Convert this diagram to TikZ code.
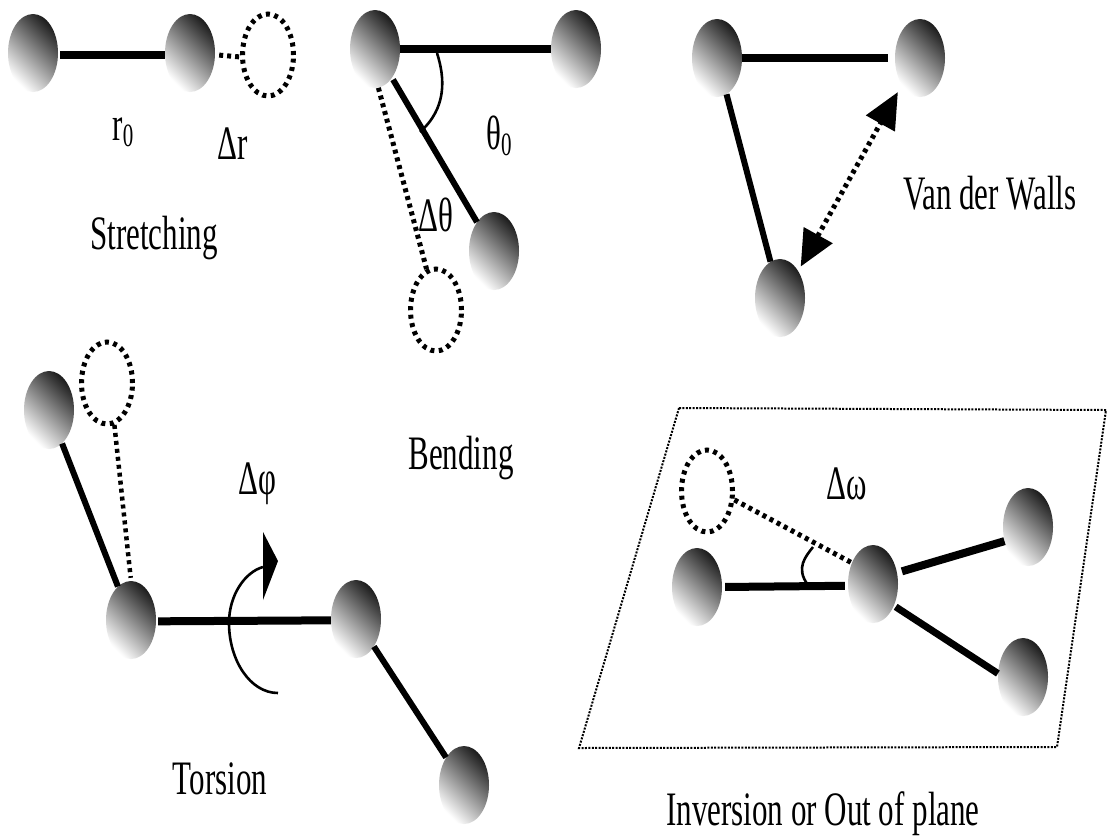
\documentclass[tikz,border=0pt]{standalone}
\usepackage{fontspec}
\setmainfont{Liberation Serif}
\usetikzlibrary{shapes.geometric,arrows.meta}
\newcommand\tallbox[1]{\scalebox{1}[1.55]{#1}}
\newcommand\lowzero{\raisebox{-0.14em}{\fontsize{21}{21}\selectfont 0}}
\tikzset{
  ball/.style={ellipse,inner sep=0pt,minimum width=50pt,minimum height=78pt,
    top color=black!88,middle color=black!42,bottom color=white,shading angle=-45},
  ghost/.style={ellipse,inner sep=0pt,minimum width=51pt,minimum height=82pt,draw=black,
    line width=5pt,dash pattern=on 4pt off 4.5pt},
  lab/.style={inner sep=0pt,anchor=base,font=\fontsize{31}{31}\selectfont,text=black},
  bondthick/.style={draw=black,line width=8pt},
  bond/.style={draw=black,line width=6pt},
  dotbond/.style={draw=black,line width=5pt,dash pattern=on 4pt off 4pt},
  dotthin/.style={draw=black,line width=4.5pt,dash pattern=on 4pt off 4pt},
  planeline/.style={draw=black,line width=2pt,dash pattern=on 2pt off 1.4pt},
  anglearc/.style={draw=black,line width=2.6pt},
}
\begin{document}
\begin{tikzpicture}[x=1pt,y=-1pt]
\useasboundingbox (0,0) rectangle (1107,836);
\fill[white] (0,0) rectangle (1107,836);
% Stretching
\node[ball] (s1) at (33,53) {};
\node[ball] (s2) at (190,53) {};
\node[ghost] (s3) at (268,55) {};
\draw[bondthick,shorten <=2pt] (s1.-4) -- (s2.184);
\draw[dotbond,shorten <=4pt] (s2.-4) -- (s3.184);
\node[lab] (r0) at (123,140) {\tallbox{r\lowzero}};
\node[lab] (dr) at (233,159) {\tallbox{Δr}};
\node[lab] (stretch) at (154,249) {\tallbox{Stretching}};
% Bending
\node[ball] (b1) at (375,49) {};
\node[ball] (b2) at (576,49) {};
\node[ball] (b3) at (494,251) {};
\node[ghost] (b4) at (436,310) {};
\draw[bondthick] (b1) -- (b2);
\draw[bond,shorten <=2pt] (b1) -- (b3);
\draw[dotbond] (b1.-85) -- (b4.103);
\coordinate (ba1) at (437,53);
\coordinate (ba2) at (420,132);
\draw[anglearc] (ba1) .. controls (445,78) and (447,108) .. (ba2);
\node[lab] (theta0) at (499,149) {\tallbox{θ\lowzero}};
\node[lab] (dtheta) at (436,231) {\tallbox{Δθ}};
\node[lab] (bending) at (461,469) {\tallbox{Bending}};
% Van der Walls
\node[ball] (v1) at (717,58) {};
\node[ball] (v2) at (920,58) {};
\node[ball] (v3) at (780,298) {};
\draw[bondthick,shorten >=7pt] (v1) -- (v2);
\draw[bond] (v1) -- (v3);
\draw[dotbond,shorten <=5pt,shorten >=8pt,{Triangle[length=36pt,width=32pt]}-{Triangle[length=36pt,width=32pt]}] (v3.56) -- (v2.-124);
\node[lab] (vdw) at (990,209) {\tallbox{Van der Walls}};
% Torsion
\node[ball] (t1) at (49,410) {};
\node[ghost] (t2) at (107,383) {};
\node[ball] (t3) at (131,620) {};
\node[ball] (t4) at (356,619) {};
\node[ball] (t5) at (464,785) {};
\draw[bond] (t1) -- (t3);
\draw[dotthin,shorten >=3pt] (t2.-80) -- (t3.90);
\draw[bondthick,shorten <=2pt] (t3.-3) -- (t4.183);
\draw[bond] (t4) -- (t5);
\coordinate (ta1) at (278,693);
\coordinate (ta2) at (263,567);
\draw[anglearc] (ta1) .. controls (250,693) and (229,660) .. (229,623)
  .. controls (229,595) and (245,572) .. (ta2);
\coordinate (th1) at (263,532);
\coordinate (th2) at (278,561);
\coordinate (th3) at (263,600);
\fill[black] (th1) -- (th2) -- (th3) -- cycle;
\node[lab] (dphi) at (257,494) {\tallbox{Δφ}};
\node[lab] (torsion) at (220,794) {\tallbox{Torsion}};
% Inversion
\coordinate (p1) at (679,408);
\coordinate (p2) at (1106,410);
\coordinate (p3) at (1057,747);
\coordinate (p4) at (579,748);
\draw[planeline] (p1) -- (p2) -- (p3) -- (p4) -- cycle;
\node[ghost] (i1) at (707,491) {};
\node[ball] (i2) at (697,587) {};
\node[ball] (i3) at (873,584) {};
\node[ball] (i4) at (1028,527) {};
\node[ball] (i5) at (1023,677) {};
\draw[bondthick,shorten <=3pt,shorten >=3pt] (i2.0) -- (i3.184);
\draw[bondthick,shorten <=5pt] (i3.25) -- (i4.211);
\draw[bond,line width=7pt,shorten <=2pt] (i3.-46) -- (i5.172);
\draw[dotbond] (i1.-18) -- (i3.135);
\coordinate (ia1) at (813,547);
\coordinate (ia2) at (808,585);
\draw[anglearc] (ia1) .. controls (806,556) and (795,568) .. (ia2);
\node[lab] (domega) at (847,499) {\tallbox{Δω}};
\node[lab] (inversion) at (823,825) {\tallbox{Inversion or Out of plane}};
\end{tikzpicture}
\end{document}
